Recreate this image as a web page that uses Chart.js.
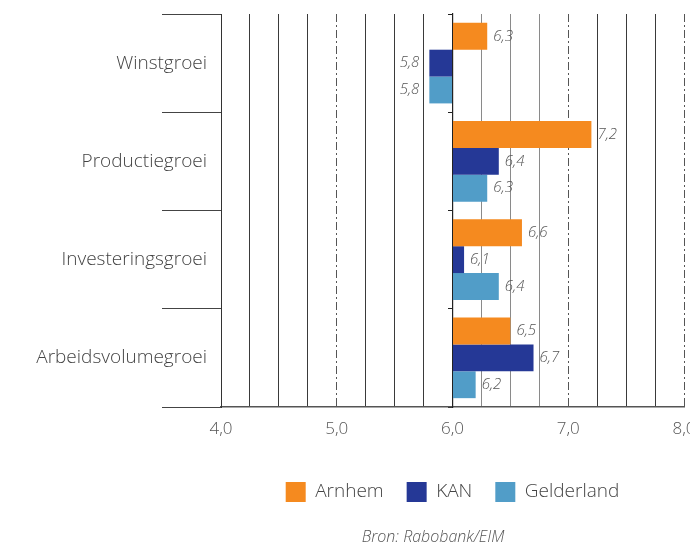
<!DOCTYPE html>
<html>
<head>
<meta charset="utf-8">
<script src="https://cdn.jsdelivr.net/npm/chart.js@4/dist/chart.umd.min.js"></script>
<style>
  html, body { margin: 0; padding: 0; background: #fff; }
  #wrap { position: relative; width: 690px; height: 549px; }
  #src { position: absolute; top: 525px; left: 283px; width: 300px; text-align: center;
         font: italic 300 16px "Open Sans", sans-serif; color: #555; }
</style>
</head>
<body>
<div id="wrap">
  <canvas id="c" width="690" height="549"></canvas>
  <div id="src">Bron: Rabobank/EIM</div>
</div>
<script>
const categories = ['Winstgroei', 'Productiegroei', 'Investeringsgroei', 'Arbeidsvolumegroei'];
const seriesNames = ['Arnhem', 'KAN', 'Gelderland'];
const arnhem = [6.3, 7.2, 6.6, 6.5];
const kan = [5.8, 6.4, 6.1, 6.7];
const gelderland = [5.8, 6.3, 6.4, 6.2];
const baseValue = 6.0;
const axisMin = 4.0;
const axisMax = 8.0;
const gridStep = 0.25;
const dashedAt = [5, 7, 8];

const colors = ['#F58A1F', '#253896', '#519DC8'];
const FONT = '"Open Sans", sans-serif';
const fmt = v => v.toFixed(1).replace('.', ',');

const valueLabels = {
  id: 'valueLabels',
  afterDatasetsDraw(chart) {
    const ctx = chart.ctx;
    ctx.save();
    ctx.font = 'italic 300 15px ' + FONT;
    ctx.fillStyle = '#555';
    ctx.textBaseline = 'middle';
    chart.data.datasets.forEach((ds, di) => {
      const meta = chart.getDatasetMeta(di);
      meta.data.forEach((bar, i) => {
        const v = ds.data[i];
        if (v >= ds.base) { ctx.textAlign = 'left'; ctx.fillText(fmt(v), bar.x + 6, bar.y); }
        else { ctx.textAlign = 'right'; ctx.fillText(fmt(v), bar.x - 10, bar.y); }
      });
    });
    ctx.restore();
  }
};

new Chart(document.getElementById('c'), {
  type: 'bar',
  data: {
    labels: categories,
    datasets: [arnhem, kan, gelderland].map((d, i) => ({
      label: seriesNames[i],
      data: d,
      base: baseValue,
      backgroundColor: colors[i],
      borderWidth: 0,
      barPercentage: 1,
      categoryPercentage: 0.82
    }))
  },
  options: {
    indexAxis: 'y',
    responsive: false,
    animation: false,
    layout: { padding: { top: 14, right: 6, bottom: 37, left: 0 } },
    scales: {
      x: {
        type: 'linear', min: axisMin, max: axisMax,
        position: 'bottom',
        afterFit: s => { s.paddingRight = 0; s.paddingLeft = 0; s.height = 52; },
        ticks: {
          stepSize: gridStep, autoSkip: false, maxRotation: 0, padding: 12,
          font: { family: FONT, size: 17, weight: '300' }, color: '#555',
          callback: v => (Number.isInteger(v) ? fmt(v) : '')
        },
        grid: {
          drawTicks: false,
          lineWidth: 1,
          color: c => {
            const v = c.tick ? c.tick.value : 0;
            if (dashedAt.includes(v)) return 'rgba(0,0,0,0)';
            if (v > 6 && v < 7) return '#8a8a8a';
            return '#3a3a3a';
          }
        },
        border: { display: true, color: '#555', width: 1.5 }
      },
      x2: {
        type: 'linear', axis: 'x', min: axisMin, max: axisMax, position: 'top',
        afterFit: s => { s.height = 0; s.paddingLeft = 0; s.paddingRight = 0; },
        ticks: { display: false, stepSize: 1 },
        grid: {
          drawTicks: false,
          lineWidth: 1,
          color: c => (c.tick && dashedAt.includes(c.tick.value) ? '#555' : 'rgba(0,0,0,0)')
        },
        border: { display: false, dash: [8, 3, 2, 3] }
      },
      y: {
        type: 'category',
        position: 'left',
        offset: true,
        afterFit: s => { s.width = 221; },
        ticks: {
          padding: -45,
          font: { family: FONT, size: 19, weight: '300' }, color: '#444'
        },
        grid: {
          offset: true, drawOnChartArea: false, drawTicks: true,
          tickLength: 59, tickColor: '#444', tickWidth: 1
        },
        border: { display: true, color: '#333', width: 1 }
      },
      y2: {
        type: 'category', axis: 'y',
        position: { x: baseValue },
        offset: true,
        ticks: { display: false },
        grid: {
          offset: true, drawOnChartArea: false, drawTicks: true,
          tickLength: 4, tickColor: '#222', tickWidth: 1
        },
        border: { display: true, color: '#222', width: 1.2 }
      }
    },
    plugins: {
      legend: {
        position: 'bottom',
        fullSize: false,
        labels: {
          boxWidth: 20, boxHeight: 20, padding: 23,
          font: { family: FONT, size: 19, weight: '300' }, color: '#444'
        }
      },
      title: { display: false },
      tooltip: { enabled: false }
    }
  },
  plugins: [valueLabels]
});
</script>
</body>
</html>
